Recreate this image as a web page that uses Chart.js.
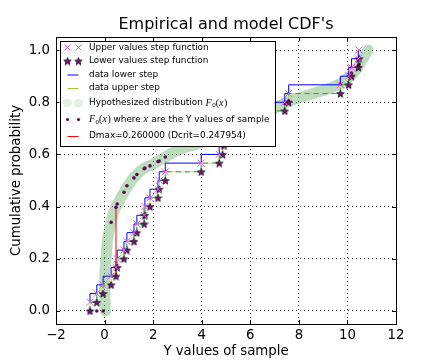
<!DOCTYPE html>
<html>
<head>
<meta charset="utf-8">
<script src="https://cdn.jsdelivr.net/npm/chart.js@4.4.0/dist/chart.umd.min.js"></script>
<style>
  html, body { margin: 0; padding: 0; background: #fff; }
</style>
</head>
<body>
<canvas id="chart" width="440" height="360"></canvas>
<script>
// sorted sample (x) and its empirical step levels
const sampleX = [-0.60, -0.32, -0.06, 0.27, 0.47, 0.52, 0.80, 0.92, 1.21, 1.33,
                 1.63, 1.66, 1.87, 2.20, 2.25, 2.50, 3.98, 4.72, 4.86, 4.92,
                 5.90, 6.30, 6.80, 7.42, 7.58, 9.71, 10.05, 10.17, 10.45, 10.48];
const lowerY = [0.0000, 0.0333, 0.0667, 0.1000, 0.1333, 0.1667, 0.2000, 0.2333, 0.2667, 0.3000,
                0.3333, 0.3667, 0.4000, 0.4333, 0.4667, 0.5000, 0.5333, 0.5667, 0.6000, 0.6333,
                0.6667, 0.7000, 0.7333, 0.7667, 0.8000, 0.8333, 0.8667, 0.9000, 0.9333, 0.9667];
const upperY = [0.0333, 0.0667, 0.1000, 0.1333, 0.1667, 0.2000, 0.2333, 0.2667, 0.3000, 0.3333,
                0.3667, 0.4000, 0.4333, 0.4667, 0.5000, 0.5333, 0.5667, 0.6000, 0.6333, 0.6667,
                0.7000, 0.7333, 0.7667, 0.8000, 0.8333, 0.8667, 0.9000, 0.9333, 0.9667, 1.0000];
// F0 evaluated at the sample
const f0Sample = [0, 0, 0, 0.340, 0.397, 0.410, 0.455, 0.480, 0.510, 0.523,
                  0.545, 0.548, 0.556, 0.573, 0.575, 0.590, 0.642, 0.660, 0.665, 0.668,
                  0.712, 0.730, 0.760, 0.795, 0.803, 0.870, 0.900, 0.912, 0.940, 0.945];
// hypothesized distribution F0
const curveX = [0.03, 0.01, 0.02, 0.07, 0.12, 0.26, 0.41, 0.62, 0.85, 1.20, 1.60, 2.00, 2.50,
                3.10, 4.00, 4.90, 5.50, 6.20, 6.90, 7.50, 8.30, 9.00, 9.70, 10.10, 10.40, 10.60, 10.75, 10.85];
const curveY = [0.000, 0.090, 0.160, 0.210, 0.270, 0.336, 0.387, 0.425, 0.463, 0.510, 0.545, 0.563, 0.590,
                0.620, 0.645, 0.668, 0.690, 0.730, 0.772, 0.800, 0.826, 0.845, 0.870, 0.900, 0.930, 0.960, 0.985, 1.000];
const dmaxIndex = 4;
const xTicks = [-2, 0, 2, 4, 6, 8, 10, 12];
const yTicks = [0.0, 0.2, 0.4, 0.6, 0.8, 1.0];

const FONT = 'DejaVu Sans';
const pts = (xs, ys) => xs.map((x, i) => ({ x: x, y: ys[i] }));

// filled five point star like matplotlib '*'
function makeStar(size, fill) {
  const c = document.createElement('canvas');
  c.width = size; c.height = size;
  const g = c.getContext('2d');
  const cx = size / 2, cy = size / 2 + 0.5, R = size / 2 - 0.5, r = R * 0.42;
  g.beginPath();
  for (let i = 0; i < 10; i++) {
    const a = -Math.PI / 2 + i * Math.PI / 5;
    const rr = i % 2 ? r : R;
    g.lineTo(cx + rr * Math.cos(a), cy + rr * Math.sin(a));
  }
  g.closePath();
  g.fillStyle = fill;
  g.fill();
  g.lineWidth = 0.7;
  g.strokeStyle = '#000';
  g.stroke();
  return c;
}
const starImg = makeStar(9, '#74167a');

const frameTicks = {
  id: 'frameTicks',
  afterDatasetsDraw(chart) {
    const { ctx, chartArea: a, scales } = chart;
    ctx.save();
    ctx.strokeStyle = '#000';
    ctx.lineWidth = 1;
    ctx.beginPath();
    xTicks.forEach(v => {
      const px = Math.round(scales.x.getPixelForValue(v)) + 0.5;
      ctx.moveTo(px, a.bottom); ctx.lineTo(px, a.bottom - 4);
      ctx.moveTo(px, a.top); ctx.lineTo(px, a.top + 4);
    });
    yTicks.forEach(v => {
      const py = Math.round(scales.y.getPixelForValue(v)) + 0.5;
      ctx.moveTo(a.left, py); ctx.lineTo(a.left + 4, py);
      ctx.moveTo(a.right, py); ctx.lineTo(a.right - 4, py);
    });
    ctx.stroke();
    ctx.strokeRect(Math.round(a.left) + 0.5, Math.round(a.top) + 0.5,
      Math.round(a.right - a.left), Math.round(a.bottom - a.top));
    ctx.restore();
  }
};

// matplotlib-like legend box in the upper left corner
const boxLegend = {
  id: 'boxLegend',
  afterDraw(chart) {
    const { ctx, chartArea: a } = chart;
    const x0 = a.left + 3.5, y0 = a.top + 4;
    const w = 215, h = 105;
    ctx.save();
    ctx.fillStyle = '#fff';
    ctx.fillRect(x0, y0, w, h);
    ctx.strokeStyle = '#000';
    ctx.lineWidth = 1;
    ctx.strokeRect(Math.round(x0) + 0.5, Math.round(y0) + 0.5, w, h);

    const m1 = x0 + 8, m2 = x0 + 19, tx = x0 + 29.5;
    const rows = [6.5, 20, 33.5, 47, 62, 78.5, 95];
    const rm = '8.9px ' + FONT;
    const it = 'italic 10px "Liberation Serif"';
    const sub = '7px "Liberation Serif"';
    const F0 = [['F', it], ['0', sub, 2.5], ['(', '10px "Liberation Serif"'], ['x', it], [')', '10px "Liberation Serif"']];
    const items = [
      { kind: 'cross', parts: [['Upper values step function', rm]] },
      { kind: 'star', parts: [['Lower values step function', rm]] },
      { kind: 'line', color: 'blue', parts: [['data lower step', rm]] },
      { kind: 'line', color: '#9acd32', parts: [['data upper step', rm]] },
      { kind: 'circle', parts: [['Hypothesized distribution ', rm]].concat(F0) },
      { kind: 'dot', parts: F0.concat([[' where ', rm], ['x', it], [' are the Y values of sample', rm]]) },
      { kind: 'line', color: 'red', parts: [['Dmax=0.260000 (Dcrit=0.247954)', rm]] }
    ];
    items.forEach((it2, i) => {
      const cy = y0 + rows[i];
      ctx.lineWidth = 1;
      if (it2.kind === 'line') {
        ctx.strokeStyle = it2.color;
        ctx.beginPath(); ctx.moveTo(m1, cy + 0.5); ctx.lineTo(m2, cy + 0.5); ctx.stroke();
      } else {
        [m1, m2].forEach(mx => {
          if (it2.kind === 'cross') {
            ctx.strokeStyle = '#e35ce3';
            ctx.beginPath();
            ctx.moveTo(mx - 3, cy - 3); ctx.lineTo(mx + 3, cy + 3);
            ctx.moveTo(mx - 3, cy + 3); ctx.lineTo(mx + 3, cy - 3);
            ctx.stroke();
          } else if (it2.kind === 'star') {
            ctx.drawImage(starImg, mx - 4.5, cy - 4.5);
          } else if (it2.kind === 'circle') {
            ctx.fillStyle = 'rgba(120,180,120,0.2)';
            ctx.beginPath(); ctx.arc(mx, cy, 4.5, 0, 2 * Math.PI); ctx.fill();
          } else {
            ctx.fillStyle = '#5a0a5a';
            ctx.beginPath(); ctx.arc(mx, cy, 1.6, 0, 2 * Math.PI); ctx.fill();
          }
        });
      }
      let x = tx;
      ctx.fillStyle = '#000';
      ctx.textBaseline = 'middle';
      it2.parts.forEach(p => {
        ctx.font = p[1];
        ctx.fillText(p[0], x, cy + (p[2] || 0));
        x += ctx.measureText(p[0]).width + (p[1] === it ? 0.5 : 0);
      });
    });
    ctx.restore();
  }
};

new Chart(document.getElementById('chart'), {
  type: 'scatter',
  data: {
    datasets: [
      { label: 'Upper values step function', data: pts(sampleX, upperY),
        pointStyle: 'crossRot', pointRadius: 5, borderColor: '#e35ce3', borderWidth: 1, order: 1 },
      { label: 'Lower values step function', data: pts(sampleX, lowerY),
        pointStyle: starImg, order: 2 },
      { label: 'data lower step', data: pts(sampleX, upperY), showLine: true, stepped: 'after',
        borderColor: 'blue', borderWidth: 1, pointRadius: 0, order: 8 },
      { label: 'data upper step', data: pts(sampleX, lowerY), showLine: true, stepped: 'after',
        borderColor: '#c9dc6a', borderWidth: 1, pointRadius: 0, order: 7 },
      { label: 'data upper step dashes', data: pts(sampleX, lowerY), showLine: true, stepped: 'after',
        borderColor: '#2a9d5c', borderWidth: 1, borderDash: [5, 4], pointRadius: 0, order: 6 },
      { label: 'Hypothesized distribution', data: pts(curveX, curveY), showLine: true, tension: 0.25,
        borderColor: 'rgba(90,165,90,0.4)', borderWidth: 11, borderCapStyle: 'round',
        borderJoinStyle: 'round', pointRadius: 0, order: 10 },
      { label: 'F0(x) at sample', data: pts(sampleX, f0Sample), pointRadius: 1.8,
        backgroundColor: '#5a0a5a', borderWidth: 0, order: 3 },
      { label: 'Dmax', data: [{ x: sampleX[dmaxIndex], y: lowerY[dmaxIndex] }, { x: sampleX[dmaxIndex], y: f0Sample[dmaxIndex] }],
        showLine: true, borderColor: 'red', borderWidth: 1, pointRadius: 0, order: 5 }
    ]
  },
  options: {
    responsive: false,
    animation: false,
    devicePixelRatio: 1,
    layout: { padding: { left: 0, right: 44, top: 0, bottom: 0 } },
    plugins: {
      legend: { display: false },
      tooltip: { enabled: false },
      title: {
        display: true, fullSize: false, text: "Empirical and model CDF's", color: '#000',
        font: { family: FONT, size: 16, weight: 'normal' }, padding: { top: 15, bottom: 2.8 }
      }
    },
    scales: {
      x: {
        type: 'linear', min: -2, max: 12,
        afterFit: s => { s.height = 36; },
        afterBuildTicks: s => { s.ticks = xTicks.map(v => ({ value: v })); },
        ticks: { color: '#000', font: { family: FONT, size: 13.3 }, padding: 4,
          callback: v => v < 0 ? '\u2212' + Math.abs(v) : String(v) },
        grid: { color: 'rgba(0,0,0,0.75)', lineWidth: 1, drawTicks: false },
        border: { display: false, dash: [1, 3] },
        title: { display: true, text: 'Y values of sample', color: '#000',
          font: { family: FONT, size: 13.3 }, padding: { top: 0, bottom: 0 } }
      },
      y: {
        type: 'linear', min: -0.05, max: 1.05,
        afterFit: s => { s.width = 56; },
        afterBuildTicks: s => { s.ticks = yTicks.map(v => ({ value: v })); },
        ticks: { color: '#000', font: { family: FONT, size: 13.3 }, padding: 6,
          callback: v => v.toFixed(1) },
        grid: { color: 'rgba(0,0,0,0.75)', lineWidth: 1, drawTicks: false },
        border: { display: false, dash: [1, 3] },
        title: { display: true, text: 'Cumulative probability', color: '#000',
          font: { family: FONT, size: 13.3 }, padding: { top: 9, bottom: 0 } }
      }
    }
  },
  plugins: [frameTicks, boxLegend]
});
</script>
</body>
</html>
